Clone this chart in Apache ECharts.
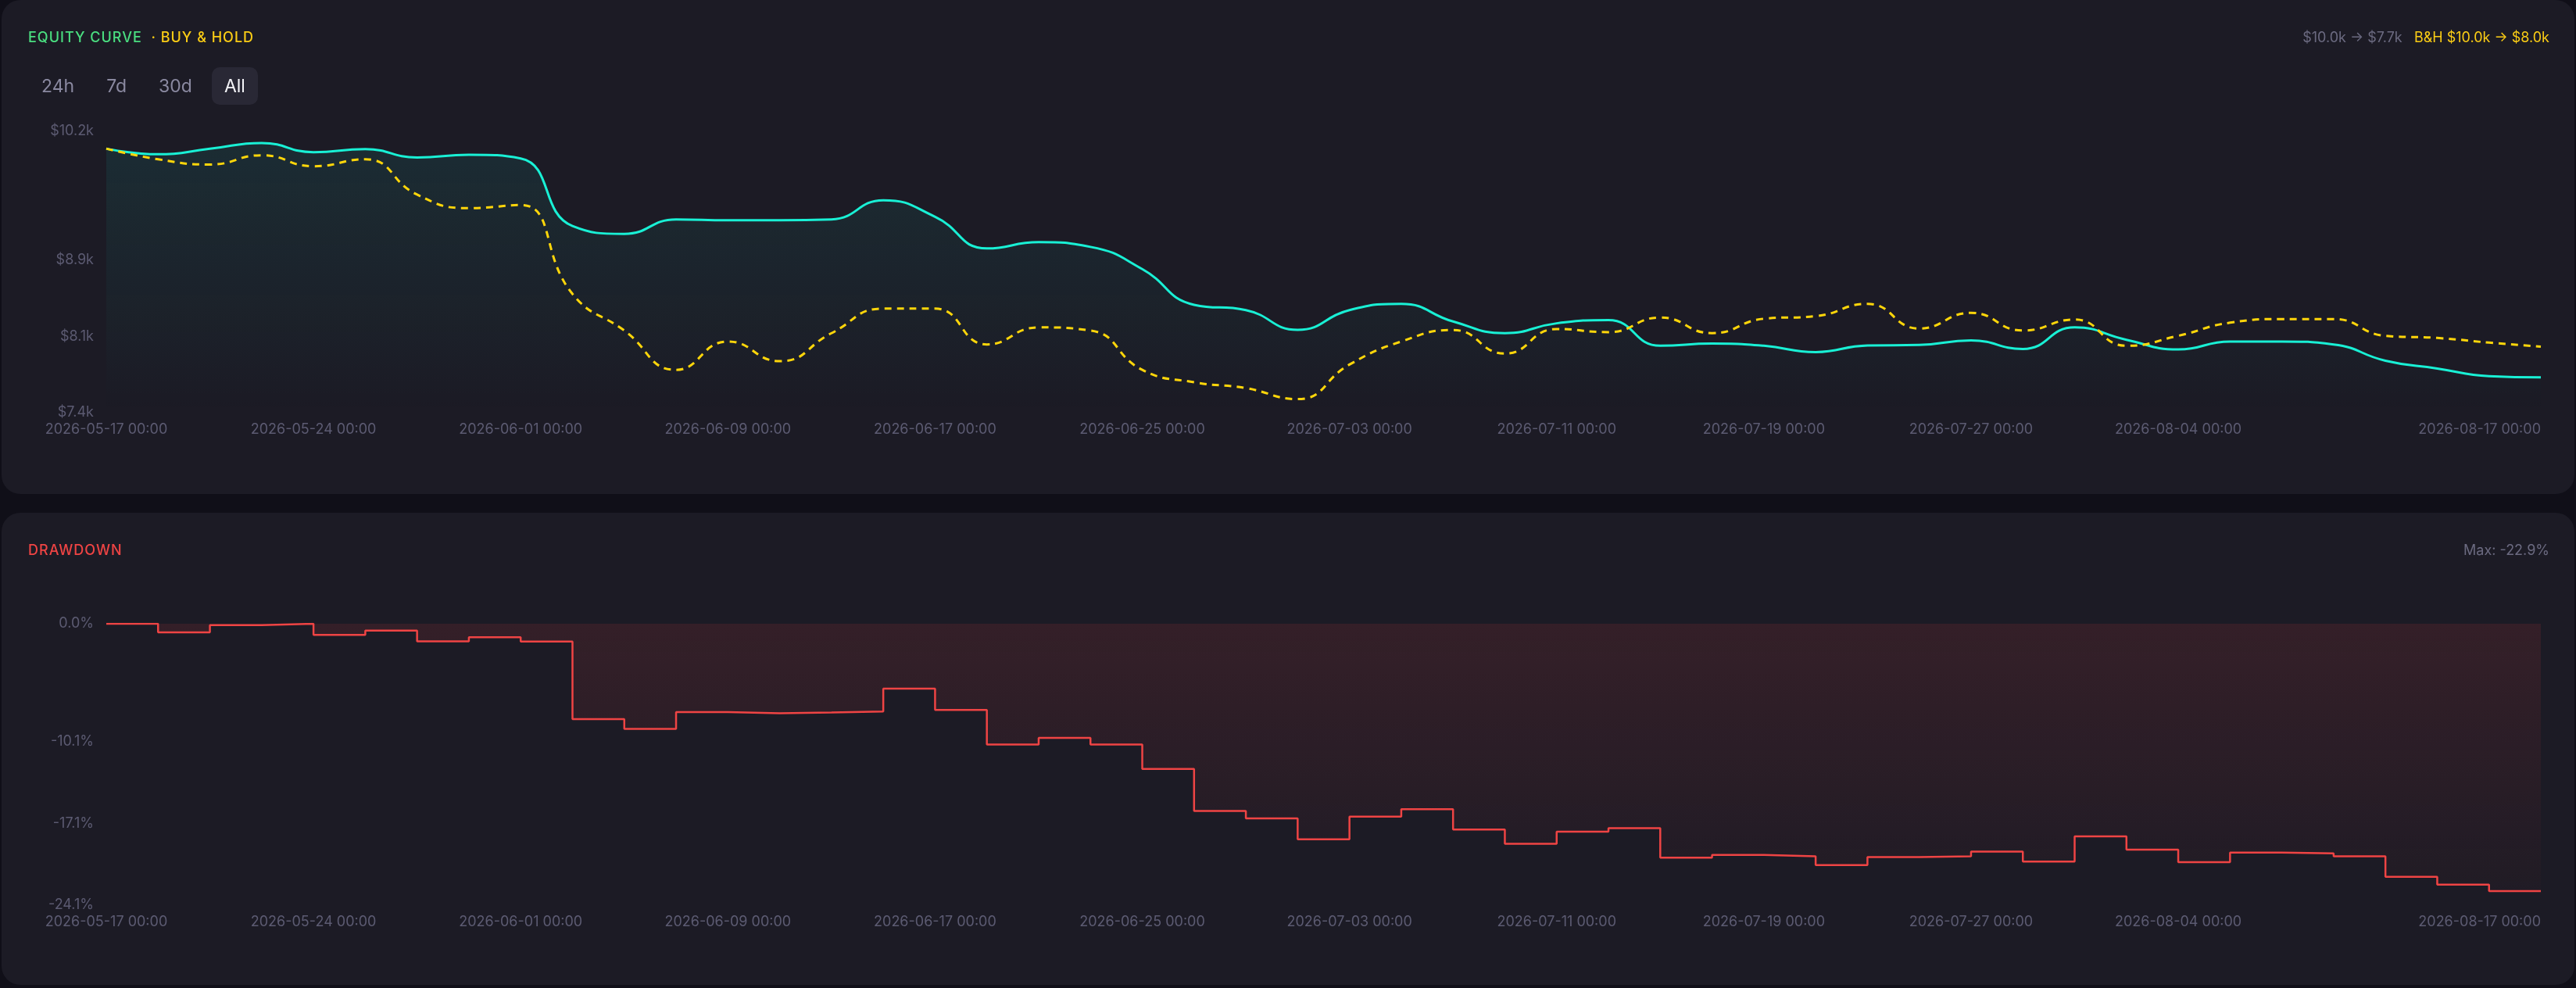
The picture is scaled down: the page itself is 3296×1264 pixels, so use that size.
<!DOCTYPE html>
<html>
<head>
<meta charset="utf-8">
<title>Equity curve</title>
<script src="https://cdn.jsdelivr.net/npm/echarts@6/dist/echarts.min.js"></script>
<style>
  html, body { margin: 0; padding: 0; background: #100f18; }
  body { width: 3296px; height: 1264px; position: relative; overflow: hidden; font-family: Inter, 'Noto Sans', sans-serif; }
  .panel { position: absolute; left: 2px; width: 3292px; background: #1c1b25; border-radius: 24px; overflow: hidden; }
  #equityPanel { top: 0; height: 632px; }
  #ddPanel { top: 656px; height: 604px; }
  .chart { position: absolute; left: 0; top: 0; width: 3292px; height: 100%; }
  .title { position: absolute; left: 34px; top: 36px; font-size: 18px; line-height: 24px; letter-spacing: 1px; font-weight: 500; z-index: 2; white-space: pre; }
  .side { position: absolute; right: 32px; top: 36px; font-size: 18px; line-height: 24px; z-index: 2; white-space: pre; color: #6b6a80; }
  .buttons { position: absolute; left: 35px; top: 86px; display: flex; gap: 9px; z-index: 2; }
  .buttons span { display: block; height: 48px; line-height: 48px; padding: 0 16px; font-size: 23px; color: #8a89a0; border-radius: 10px; }
  .buttons span.active { background: #292835; color: #f4f4f8; }
</style>
</head>
<body>
<div class="panel" id="equityPanel">
  <div class="chart" id="equityChart"></div>
  <div class="title"><span style="color:#4ade80">EQUITY CURVE</span>  <span style="color:#facc15">· BUY &amp; HOLD</span></div>
  <div class="buttons"><span>24h</span><span>7d</span><span>30d</span><span class="active">All</span></div>
  <div class="side">$10.0k → $7.7k   <span style="color:#facc15">B&amp;H $10.0k → $8.0k</span></div>
</div>
<div class="panel" id="ddPanel">
  <div class="chart" id="ddChart"></div>
  <div class="title" style="color:#ef4444">DRAWDOWN</div>
  <div class="side">Max: -22.9%</div>
</div>
<script>
const categories = [
  '2026-05-17 00:00', '2026-05-19 00:00', '2026-05-20 00:00', '2026-05-22 00:00',
  '2026-05-24 00:00', '2026-05-26 00:00', '2026-05-28 00:00', '2026-05-30 00:00',
  '2026-06-01 00:00', '2026-06-03 00:00', '2026-06-05 00:00', '2026-06-07 00:00',
  '2026-06-09 00:00', '2026-06-11 00:00', '2026-06-13 00:00', '2026-06-15 00:00',
  '2026-06-17 00:00', '2026-06-19 00:00', '2026-06-21 00:00', '2026-06-23 00:00',
  '2026-06-25 00:00', '2026-06-27 00:00', '2026-06-29 00:00', '2026-07-01 00:00',
  '2026-07-03 00:00', '2026-07-05 00:00', '2026-07-07 00:00', '2026-07-09 00:00',
  '2026-07-11 00:00', '2026-07-13 00:00', '2026-07-15 00:00', '2026-07-17 00:00',
  '2026-07-19 00:00', '2026-07-21 00:00', '2026-07-23 00:00', '2026-07-25 00:00',
  '2026-07-27 00:00', '2026-07-29 00:00', '2026-07-31 00:00', '2026-08-02 00:00',
  '2026-08-04 00:00', '2026-08-06 00:00', '2026-08-08 00:00', '2026-08-10 00:00',
  '2026-08-12 00:00', '2026-08-14 00:00', '2026-08-16 00:00', '2026-08-17 00:00',
];

// labels that are shown on the x axis
const xTickLabels = [
  '2026-05-17 00:00', '2026-05-24 00:00', '2026-06-01 00:00', '2026-06-09 00:00',
  '2026-06-17 00:00', '2026-06-25 00:00', '2026-07-03 00:00', '2026-07-11 00:00',
  '2026-07-19 00:00', '2026-07-27 00:00', '2026-08-04 00:00', '2026-08-17 00:00',
];

const equity = [
  10000, 9944, 9998, 10055, 9965, 9995, 9913, 9939,
  9903, 9238, 9161, 9303, 9295, 9295, 9303, 9491,
  9329, 9017, 9079, 9032, 8814, 8462, 8410, 8216,
  8410, 8471, 8298, 8183, 8280, 8311, 8059, 8080,
  8059, 7997, 8062, 8067, 8111, 8028, 8240, 8118,
  8023, 8101, 8101, 8072, 7912, 7835, 7760, 7748,
];

const buyHold = [
  10000, 9895, 9843, 9934, 9826, 9895, 9547, 9414,
  9445, 8569, 8209, 7822, 8101, 7907, 8183, 8425,
  8425, 8072, 8240, 8209, 7822, 7700, 7642, 7534,
  7874, 8101, 8214, 7982, 8224, 8193, 8337, 8183,
  8325, 8350, 8471, 8229, 8383, 8209, 8317, 8059,
  8157, 8286, 8322, 8322, 8157, 8136, 8090, 8050,
];

const drawdown = [
  0, -0.74, -0.11, 0, -0.96, -0.58, -1.5, -1.16,
  -1.52, -8.17, -9.0, -7.57, -7.66, -7.6, -7.52, -5.56,
  -7.38, -10.34, -9.77, -10.34, -12.43, -16.03, -16.67, -18.46,
  -16.52, -15.89, -17.63, -18.84, -17.81, -17.5, -20.04, -19.8,
  -19.91, -20.67, -19.98, -19.91, -19.51, -20.36, -18.21, -19.35,
  -20.42, -19.6, -19.67, -19.91, -21.67, -22.34, -22.9, -22.9,
];

const eqTickValues = [7400, 8150, 8900, 10170];
const eqTickLabels = ['$7.4k', '$8.1k', '$8.9k', '$10.2k'];
const ddTickValues = [-24.1, -17.1, -10.1, 0];
const ddTickLabels = ['-24.1%', '-17.1%', '-10.1%', '0.0%'];

const labelColor = '#5c5b72';
const fontFamily = 'Inter, "Noto Sans", sans-serif';

function xAxisFor() {
  return {
    type: 'category',
    boundaryGap: false,
    data: categories,
    axisLine: { show: false },
    axisTick: { show: false },
    splitLine: { show: false },
    axisLabel: {
      color: labelColor,
      fontSize: 18,
      fontFamily,
      margin: 13,
      interval: (index, value) => xTickLabels.includes(value),
      alignMaxLabel: 'right',
    },
  };
}

function yAxisFor(min, max, values, labels) {
  return {
    type: 'value',
    min,
    max,
    axisLine: { show: false },
    axisTick: { show: false },
    splitLine: { show: false },
    axisLabel: {
      customValues: values,
      color: labelColor,
      fontSize: 18,
      fontFamily,
      margin: 16,
      padding: [7, 0, 0, 0],
      formatter: v => {
        const i = values.findIndex(t => Math.abs(t - v) < 1e-6);
        return i >= 0 ? labels[i] : '';
      },
    },
  };
}

function buildCharts() {
  const equityChart = echarts.init(document.getElementById('equityChart'));
  const ddChart = echarts.init(document.getElementById('ddChart'));

  equityChart.setOption({
    animation: false,
    backgroundColor: 'transparent',
    grid: { left: 134, top: 168, width: 3115, height: 360, containLabel: false, outerBoundsMode: 'none' },
    xAxis: xAxisFor(),
    yAxis: yAxisFor(7400, 10170, eqTickValues, eqTickLabels),
    series: [
      {
        name: 'Equity',
        type: 'line',
        data: equity,
        smooth: true,
        showSymbol: false,
        lineStyle: { color: '#19f0d5', width: 3 },
        areaStyle: {
          color: new echarts.graphic.LinearGradient(0, 0, 0, 1, [
            { offset: 0, color: 'rgba(25, 240, 213, 0.12)' },
            { offset: 1, color: 'rgba(25, 240, 213, 0.0)' },
          ]),
        },
      },
      {
        name: 'Buy & Hold',
        type: 'line',
        data: buyHold,
        smooth: true,
        showSymbol: false,
        lineStyle: { color: '#ffd60a', width: 3, type: [9, 7] },
      },
    ],
  });

  ddChart.setOption({
    animation: false,
    backgroundColor: 'transparent',
    grid: { left: 134, top: 142, width: 3115, height: 360, containLabel: false, outerBoundsMode: 'none' },
    xAxis: xAxisFor(),
    yAxis: yAxisFor(-24.1, 0, ddTickValues, ddTickLabels),
    series: [
      {
        name: 'Drawdown',
        type: 'line',
        data: drawdown,
        step: 'end',
        showSymbol: false,
        lineStyle: { color: '#ef4444', width: 2.5 },
        areaStyle: {
          color: new echarts.graphic.LinearGradient(0, 0, 0, 1, [
            { offset: 0, color: 'rgba(239, 68, 68, 0.17)' },
            { offset: 1, color: 'rgba(239, 68, 68, 0.03)' },
          ]),
        },
      },
    ],
  });

  return { equityChart, ddChart };
}

buildCharts();
</script>
</body>
</html>
